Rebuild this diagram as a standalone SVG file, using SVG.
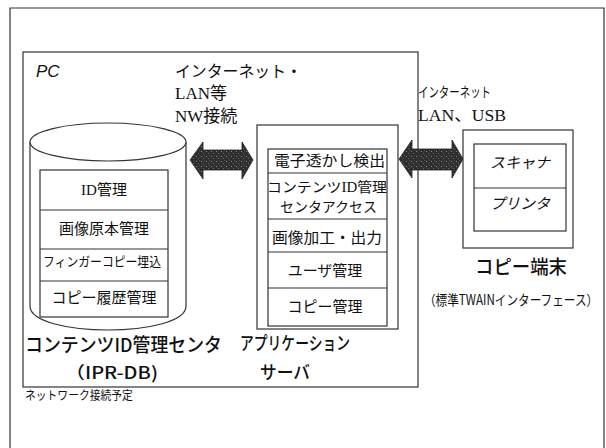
<svg xmlns="http://www.w3.org/2000/svg" width="606" height="448" viewBox="0 0 606 448">
<defs>
<pattern id="speck" width="5" height="5" patternUnits="userSpaceOnUse">
<rect width="5" height="5" fill="#2e2e2e"/>
<rect x="1" y="1" width="1" height="1" fill="#8a8a8a"/>
<rect x="3" y="3" width="1" height="1" fill="#6a6a6a"/>
<rect x="4" y="0" width="1" height="1" fill="#555"/>
</pattern>
<style>
.ln{fill:none;stroke:#333;stroke-width:1.2}
.bx{fill:#fff;stroke:#333;stroke-width:1.2}
.ms{font-family:"Liberation Serif","Noto Sans CJK JP",serif;fill:#111}
.gt{font-family:"Noto Sans CJK JP","Liberation Sans",sans-serif;fill:#111}
.hd{font-weight:500}
.arr{fill:url(#speck);stroke:#222;stroke-width:0.8}
</style>
</defs>
<rect width="606" height="448" fill="#fff"/>
<path class="ln" d="M10,460 V8 H604 V460"/>

<g id="connectors">
<polygon class="arr" points="190,160 203,142 203,150 242,150 242,142 253,160 242,179 242,170 203,170 203,179"/>
<polygon class="arr" points="399,159 412,140 412,149 452,149 452,140 463,159 452,178 452,170 412,170 412,178"/>
</g>

<g id="pc">
<rect class="ln" x="23" y="52" width="395" height="335"/>
<text x="36" y="77" font-size="17" font-style="italic" font-family="Liberation Sans, sans-serif" fill="#111">PC</text>
</g>

<g id="label-nw">
<text class="ms" x="175" y="77" font-size="16" textLength="127" lengthAdjust="spacingAndGlyphs">インターネット・</text>
<text class="ms" x="175" y="99" font-size="17">LAN等</text>
<text class="ms" x="175" y="122" font-size="17">NW接続</text>
</g>

<g id="label-lan">
<text class="gt" x="418" y="97" font-size="14" textLength="73" lengthAdjust="spacingAndGlyphs">インターネット</text>
<text class="ms" x="418" y="121" font-size="17" textLength="88" lengthAdjust="spacingAndGlyphs">LAN、USB</text>
</g>

<g id="ipr-db">
<path class="bx" d="M30,142 V306 C30,322 70,330 108,330 C146,330 186,322 186,306 V142"/>
<ellipse class="bx" cx="108" cy="142" rx="78" ry="19"/>
<rect class="bx" x="40" y="170" width="128" height="147"/>
<line class="ln" x1="40" y1="210" x2="168" y2="210"/>
<line class="ln" x1="40" y1="249" x2="168" y2="249"/>
<line class="ln" x1="40" y1="281" x2="168" y2="281"/>
<text class="ms" x="104" y="195" font-size="15" text-anchor="middle">ID管理</text>
<text class="ms" x="104" y="234" font-size="15" text-anchor="middle">画像原本管理</text>
<text class="ms" x="43" y="266" font-size="13" textLength="118" lengthAdjust="spacingAndGlyphs">フィンガーコピー埋込</text>
<text class="ms" x="104" y="303" font-size="15" text-anchor="middle">コピー履歴管理</text>
<text class="gt hd" x="25" y="352" font-size="19" textLength="197" lengthAdjust="spacingAndGlyphs">コンテンツID管理センタ</text>
<text class="gt hd" x="65" y="379" font-size="17" textLength="93" lengthAdjust="spacingAndGlyphs">（IPR-DB)</text>
</g>

<g id="app-server">
<rect class="bx" x="257" y="125" width="141" height="204"/>
<rect class="bx" x="268" y="149" width="119" height="177"/>
<line class="ln" x1="268" y1="173" x2="387" y2="173"/>
<line class="ln" x1="268" y1="219" x2="387" y2="219"/>
<line class="ln" x1="268" y1="252" x2="387" y2="252"/>
<line class="ln" x1="268" y1="288" x2="387" y2="288"/>
<text class="ms" x="274" y="166" font-size="15" textLength="111" lengthAdjust="spacingAndGlyphs">電子透かし検出</text>
<text class="ms" x="267" y="192" font-size="14" textLength="120" lengthAdjust="spacingAndGlyphs">コンテンツID管理</text>
<text class="ms" x="280" y="212" font-size="14" textLength="97" lengthAdjust="spacingAndGlyphs">センタアクセス</text>
<text class="ms" x="272" y="243" font-size="15" textLength="110" lengthAdjust="spacingAndGlyphs">画像加工・出力</text>
<text class="ms" x="325" y="276" font-size="15" text-anchor="middle">ユーザ管理</text>
<text class="ms" x="325" y="312" font-size="15" text-anchor="middle">コピー管理</text>
<text class="gt hd" x="240" y="350" font-size="18" textLength="110" lengthAdjust="spacingAndGlyphs">アプリケーション</text>
<text class="gt hd" x="260" y="379" font-size="18" textLength="50" lengthAdjust="spacingAndGlyphs">サーバ</text>
</g>

<g id="copy-terminal">
<rect class="bx" x="463" y="130" width="110" height="118"/>
<rect class="bx" x="474" y="144" width="92" height="87"/>
<line class="ln" x1="474" y1="188" x2="566" y2="188"/>
<text class="ms" x="520" y="168" font-size="15" font-style="italic" text-anchor="middle">スキャナ</text>
<text class="ms" x="520" y="209" font-size="15" font-style="italic" text-anchor="middle">プリンタ</text>
<text class="gt hd" x="475" y="274" font-size="19" textLength="92" lengthAdjust="spacingAndGlyphs">コピー端末</text>
<text class="gt" font-size="14" transform="translate(424,305) scale(0.83,1)">（標準TWAINインターフェース）</text>
</g>

<g id="note">
<text class="gt" font-size="12" transform="translate(25,400) scale(0.9,1)">ネットワーク接続予定</text>
</g>
</svg>
